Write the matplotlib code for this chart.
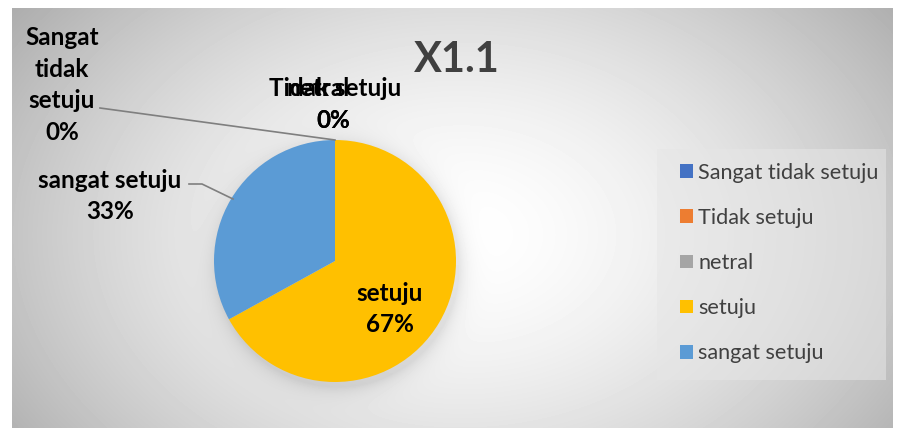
import numpy as np
import matplotlib.pyplot as plt
from matplotlib.patches import Rectangle

# data
categories = ['Sangat tidak setuju', 'Tidak setuju', 'netral', 'setuju', 'sangat setuju']
percent = [0, 0, 0, 67, 33]
colors = ['#4472C4', '#ED7D31', '#A5A5A5', '#FFC000', '#5B9BD5']
title = 'X1.1'

W, H = 897, 428
plt.rcParams['font.family'] = ['Lato', 'DejaVu Sans']

fig = plt.figure(figsize=(W / 100, H / 100), dpi=100)
ax = fig.add_axes([0, 0, 1, 1])

def Y(py):
    return H - py

# pie geometry (pixels)
cx, cy, R = 335, 261, 121

# radial grey background with soft pie shadow
x0, x1, y0, y1 = 12, 893, 8, 428
xs = np.arange(x0, x1) + 0.5
ys = np.arange(y0, y1) + 0.5
gx, gy = np.meshgrid(xs, ys)
r = np.sqrt(((gx - 460) / 470) ** 2 + ((gy - 235) / 330) ** 2)
bg = 1 - 0.25 * np.clip(r, 0, 1.2) ** 1.6
d = np.sqrt((gx - cx - 3) ** 2 + (gy - cy - 5) ** 2) - R
shadow = np.where(d > 0, 0.10 * np.exp(-d / 9), 0.10)
bg = np.clip(bg - shadow, 0, 1)
ax.imshow(bg, cmap='gray', vmin=0, vmax=1, extent=[x0, x1, Y(y1), Y(y0)],
          aspect='auto', zorder=0, interpolation='bilinear')

wedges, _ = ax.pie(percent, colors=colors, startangle=90, counterclock=False,
                   center=(cx, Y(cy)), radius=R, frame=True,
                   wedgeprops=dict(linewidth=0))
ax.set_xlim(0, W)
ax.set_ylim(0, H)
ax.set_aspect('auto')
ax.axis('off')

ax.text(457, Y(60), title, ha='center', va='center', fontsize=30,
        fontweight='bold', color='#404040')

# data labels
lab = dict(ha='center', va='center', fontsize=17.5, fontweight='bold',
           color='black', linespacing=1.45)
ax.text(62, Y(85), 'Sangat\ntidak\nsetuju\n' + f'{percent[0]}%', **lab)
ax.text(335, Y(88), 'Tidak setuju', **lab)
ax.text(318, Y(88), 'netral', **lab)
ax.text(333, Y(120), f'{percent[1]}%', **lab)
ax.text(333, Y(120), f'{percent[2]}%', **lab)
ax.text(110, Y(196), 'sangat setuju\n' + f'{percent[4]}%', **lab)
ax.text(390, Y(309), 'setuju\n' + f'{percent[3]}%', **lab)

# leader lines
ax.plot([100, 335], [Y(108), Y(140)], color='#7f7f7f', lw=1.2)
ax.plot([189, 202, 233], [Y(184), Y(184), Y(199)], color='#7f7f7f', lw=1.2)

# legend
ax.add_patch(Rectangle((657, Y(380)), 229, 231, facecolor='#e6e6e6',
                       alpha=0.55, edgecolor='none', zorder=1))
leg = ax.legend(wedges, categories, loc='upper left',
                bbox_to_anchor=(669, Y(152)), bbox_transform=ax.transData,
                frameon=False, fontsize=15.6, labelspacing=1.16, borderpad=0,
                handlelength=0.6, handleheight=0.6, handletextpad=0.25)
for t in leg.get_texts():
    t.set_color('#404040')

fig.savefig('out.png', dpi=100)
